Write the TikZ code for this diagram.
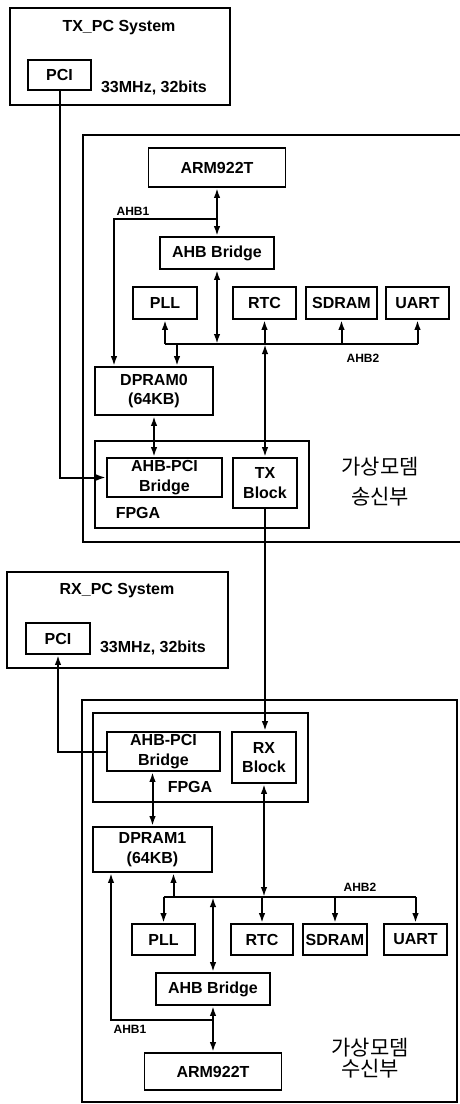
\documentclass[tikz,border=0pt]{standalone}
\usepackage{fontspec}
\setmainfont{Liberation Sans}
\newfontfamily\kor{Noto Sans CJK KR}
\usetikzlibrary{positioning, arrows.meta, calc}
\tikzset{
  blk/.style={draw, line width=1.8pt, inner sep=0pt, align=center,
    font=\bfseries\fontsize{16}{19.5}\selectfont},
  frm/.style={draw, line width=1.6pt, inner sep=0pt},
  lbl/.style={inner sep=0pt, font=\bfseries\fontsize{16}{18}\selectfont},
  sml/.style={inner sep=0pt, font=\bfseries\fontsize{12}{13}\selectfont},
  kor/.style={inner sep=0pt, align=center, font=\kor\fontsize{21}{30}\selectfont},
  buswire/.style={draw, line width=2pt},
  oneway/.style={buswire, -{Latex[length=10pt,width=6.5pt]}},
  twoway/.style={buswire, {Latex[length=10pt,width=6.5pt]}-{Latex[length=10pt,width=6.5pt]}}
}

\begin{document}
\begin{tikzpicture}[x=1pt, y=-1pt]
  \useasboundingbox (0,0) rectangle (459,1104);

  % TX side
  \node[frm, minimum width=220pt, minimum height=97pt] (txpc) at (120,56.5) {};
  \node[lbl] (txpctitle) at (119,28) {TX\_PC System};
  \node[blk, minimum width=63pt, minimum height=30pt] (txpci) at (59.5,75) {PCI};
  \node[lbl] (txfreq) at (154,88) {33MHz, 32bits};

  \node[frm, minimum width=379pt, minimum height=407pt] (txside) at (272.5,338.5) {};
  \node[blk, minimum width=137pt, minimum height=39pt] (txarm) at (217,167.5) {ARM922T};
  \node[blk, minimum width=114pt, minimum height=32pt] (txahb) at (217,253) {AHB Bridge};
  \node[blk, minimum width=64pt, minimum height=32pt] (txpll) at (165,303) {PLL};
  \node[blk, minimum width=63pt, minimum height=32pt] (txrtc) at (264.5,303) {RTC};
  \node[blk, minimum width=71pt, minimum height=32pt] (txsdram) at (341.5,303) {SDRAM};
  \node[blk, minimum width=63pt, minimum height=32pt] (txuart) at (417.5,303) {UART};
  \node[blk, minimum width=118pt, minimum height=48pt] (txdpram) at (154,391) {DPRAM0\\(64KB)};
  \node[blk, minimum width=214pt, minimum height=87pt] (txfpga) at (202,484.5) {};
  \node[blk, minimum width=115pt, minimum height=39pt] (txbridge) at (164.5,477.5) {AHB-PCI\\Bridge};
  \node[blk, minimum width=64pt, minimum height=50pt] (txblock) at (265,483) {TX\\Block};
  \node[lbl] (txfpgalbl) at (138,513) {FPGA};
  \node[sml] (txahb1) at (133,211) {AHB1};
  \node[sml] (txahb2) at (363,358) {AHB2};
  \node[kor] (txname) at (380,482) {가상모뎀\\송신부};

  \coordinate (txbus) at (300,344);
  \coordinate (txtap) at (217,219);
  \draw[buswire] (txpll |- txbus) -- (txuart |- txbus);
  \draw[oneway] (txpll |- txbus) -- (txpll);
  \draw[oneway] (txrtc |- txbus) -- (txrtc);
  \draw[oneway] (txsdram |- txbus) -- (txsdram);
  \draw[oneway] (txuart |- txbus) -- (txuart);
  \draw[twoway] (txarm) -- (txahb);
  \draw[oneway] (txtap) -| ([xshift=-40pt]txdpram.north);
  \draw[twoway] (txahb) -- (txahb |- txbus);
  \draw[oneway] ([xshift=23pt]txdpram.north |- txbus) -- ([xshift=23pt]txdpram.north);
  \draw[twoway] (txdpram) -- (txdpram |- txbridge.north);
  \draw[twoway] (txblock) -- (txblock |- txbus);
  \draw[oneway] (txpci) |- (txbridge);

  % RX side
  \node[frm, minimum width=221pt, minimum height=96pt] (rxpc) at (117.5,620) {};
  \node[lbl] (rxpctitle) at (117,591) {RX\_PC System};
  \node[blk, minimum width=64pt, minimum height=31pt] (rxpci) at (58,638.5) {PCI};
  \node[lbl] (rxfreq) at (153,648) {33MHz, 32bits};

  \node[frm, minimum width=375pt, minimum height=402pt] (rxside) at (269.5,901) {};
  \node[blk, minimum width=215pt, minimum height=89pt] (rxfpga) at (200.5,757.5) {};
  \node[blk, minimum width=113pt, minimum height=39pt] (rxbridge) at (163.5,751.5) {AHB-PCI\\Bridge};
  \node[blk, minimum width=64pt, minimum height=51pt] (rxblock) at (264,757.5) {RX\\Block};
  \node[lbl] (rxfpgalbl) at (190,787) {FPGA};
  \node[blk, minimum width=119pt, minimum height=45pt] (rxdpram) at (152.5,849.5) {DPRAM1\\(64KB)};
  \node[blk, minimum width=63pt, minimum height=31pt] (rxpll) at (163.5,939.5) {PLL};
  \node[blk, minimum width=62pt, minimum height=31pt] (rxrtc) at (262,939.5) {RTC};
  \node[blk, minimum width=64pt, minimum height=31pt] (rxsdram) at (335,939.5) {SDRAM};
  \node[blk, minimum width=63pt, minimum height=31pt] (rxuart) at (415.5,939.5) {UART};
  \node[blk, minimum width=114pt, minimum height=32pt] (rxahb) at (213,989) {AHB Bridge};
  \node[blk, minimum width=137pt, minimum height=37pt] (rxarm) at (213,1071.5) {ARM922T};
  \node[sml] (rxahb1) at (130,1029) {AHB1};
  \node[sml] (rxahb2) at (360,887) {AHB2};
  \node[kor, font=\kor\fontsize{21}{21}\selectfont] (rxname) at (370,1058) {가상모뎀\\수신부};

  \coordinate (rxbus) at (300,897);
  \coordinate (rxtap) at (213,1020);
  \draw[buswire] (rxpll |- rxbus) -- (rxuart |- rxbus);
  \draw[oneway] (rxpll |- rxbus) -- (rxpll);
  \draw[oneway] (rxrtc |- rxbus) -- (rxrtc);
  \draw[oneway] (rxsdram |- rxbus) -- (rxsdram);
  \draw[oneway] (rxuart |- rxbus) -- (rxuart);
  \draw[oneway] (rxbridge) -| (rxpci);
  \draw[twoway] (rxdpram |- rxbridge.south) -- (rxdpram);
  \draw[twoway] (rxblock) -- (rxblock |- rxbus);
  \draw[oneway] ([xshift=21pt]rxdpram.south |- rxbus) -- ([xshift=21pt]rxdpram.south);
  \draw[twoway] (rxahb |- rxbus) -- (rxahb);
  \draw[twoway] (rxahb) -- (rxarm);
  \draw[oneway] (rxtap) -| ([xshift=-41.5pt]rxdpram.south);

  % TX -> RX
  \draw[oneway] (txblock) -- (txblock |- rxblock.north);
\end{tikzpicture}
\end{document}
